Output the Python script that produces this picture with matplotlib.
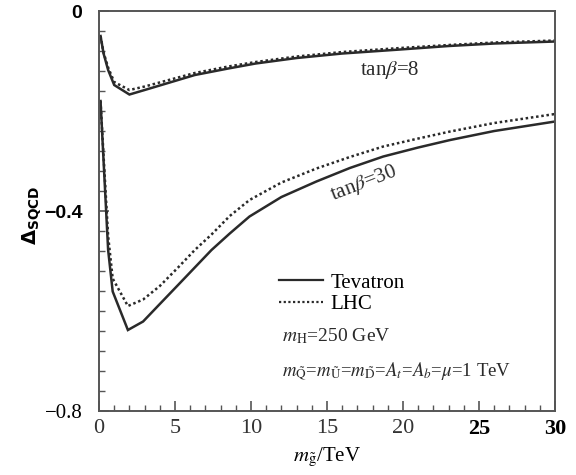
import matplotlib
matplotlib.use("Agg")
import matplotlib.pyplot as plt
from matplotlib.lines import Line2D

plt.rcParams['font.family'] = ['Liberation Serif', 'DejaVu Serif']
plt.rcParams['mathtext.fontset'] = 'stix'

# tan(beta) = 8
x8 = [0.1, 0.3, 0.6, 1.0, 2.0, 3.0, 4.1, 5.2, 6.3, 8.5, 10.3, 13, 16, 19.8, 23, 26, 30]
tev8 = [-0.05, -0.085, -0.118, -0.148, -0.167, -0.158, -0.148, -0.138, -0.128, -0.115,
        -0.105, -0.094, -0.085, -0.077, -0.070, -0.065, -0.061]
lhc8 = [-0.05, -0.083, -0.113, -0.142, -0.158, -0.151, -0.142, -0.133, -0.124, -0.111,
        -0.102, -0.091, -0.082, -0.074, -0.068, -0.063, -0.059]

# tan(beta) = 30
x30 = [0.1, 0.3, 0.6, 0.9, 1.9, 2.9, 4.0, 5.2, 6.3, 7.4, 8.6, 9.9, 12, 14.3, 16.5, 18.7, 21, 23.1, 26, 30]
tev30 = [-0.18, -0.30, -0.478, -0.561, -0.638, -0.621, -0.586, -0.548, -0.513, -0.478,
         -0.445, -0.411, -0.372, -0.341, -0.314, -0.291, -0.273, -0.258, -0.240, -0.221]
lhc30 = [-0.18, -0.29, -0.45, -0.535, -0.590, -0.577, -0.550, -0.513, -0.478, -0.447,
         -0.410, -0.378, -0.343, -0.315, -0.292, -0.271, -0.255, -0.241, -0.224, -0.206]

xticks = [0, 5, 10, 15, 20, 25, 30]
xlabels = ['0', '5', '10', '15', '20', '25', '30']
yticks = [0, -0.4, -0.8]
ylabels = ['0', '\u22120.4', '\u22120.8']

ink = '#2a2a2a'
fig = plt.figure(figsize=(5.76, 4.75), dpi=100)
ax = fig.add_axes([0.1719, 0.1347, 0.7916, 0.8421])

ax.plot(x8, tev8, color=ink, lw=1.8, solid_joinstyle='miter')
ax.plot(x8, lhc8, color=ink, lw=1.8, ls=(0, (1, 1.1)))
ax.plot(x30, tev30, color=ink, lw=1.8, solid_joinstyle='miter')
ax.plot(x30, lhc30, color=ink, lw=1.8, ls=(0, (1, 1.1)))

ax.set_xlim(0, 30)
ax.set_ylim(-0.8, 0)

for s in ax.spines.values():
    s.set_color('#555555')
    s.set_linewidth(1.4)

ax.set_xticks(xticks, xlabels)
ax.set_yticks(yticks, ylabels)
ax.set_xticks(range(0, 31), minor=True)
ax.set_yticks([-0.04 * i for i in range(21)], minor=True)
ax.tick_params(which='both', direction='in', color='#555555', top=False, right=False)
ax.tick_params(which='major', length=7, width=1.2)
ax.tick_params(which='minor', length=4, width=1.0)
ax.tick_params(axis='x', pad=6)
ax.tick_params(axis='y', pad=12)

for i, t in enumerate(ax.xaxis.get_major_ticks()):
    t.label1.set_fontsize(16)
    t.label1.set_fontfamily('Liberation Serif')
    if i >= 5:
        t.label1.set_fontweight('bold')
        t.label1.set_color('black')
    else:
        t.label1.set_color('#333333')
for i, t in enumerate(ax.yaxis.get_major_ticks()):
    if i < 2:
        t.label1.set_fontfamily('Liberation Sans')
        t.label1.set_fontweight('bold')
        t.label1.set_fontsize(14)
    else:
        t.label1.set_fontfamily('Liberation Serif')
        t.label1.set_fontsize(15)
    t.label1.set_color('black')

fig.text(32 / 576, 1 - 215 / 475, r'$\mathbf{\Delta_{SQCD}}$', rotation=90,
         ha='center', va='center', fontsize=14, math_fontfamily='dejavusans')
ax.set_xlabel(r'$m_{\tilde{\mathrm{g}}}$/TeV', fontsize=15, labelpad=5)

ax.text(19.1, -0.118, r'tan$\beta$=8', fontsize=15, ha='center', va='center', color=ink)
ax.text(17.4, -0.344, r'tan$\beta$=30', fontsize=15, ha='center', va='center',
        rotation=21, color=ink)

handles = [Line2D([], [], color=ink, lw=1.6),
           Line2D([], [], color=ink, lw=1.6, ls=(0, (1, 1.1)))]
ax.legend(handles, ['Tevatron', 'LHC'], loc='upper left', bbox_to_anchor=(0.395, 0.345),
          frameon=False, fontsize=15, handlelength=2.1, handletextpad=0.35,
          labelspacing=0.1, borderpad=0, borderaxespad=0)

ax.text(12.04, -0.65, r'$m_{\mathrm{H}}$=250 GeV', fontsize=14, ha='left', va='center', color=ink)
ax.text(12.04, -0.72,
        r'$m_{\tilde{\mathrm{Q}}}$=$m_{\tilde{\mathrm{U}}}$=$m_{\tilde{\mathrm{D}}}$=$A_t$=$A_b$=$\mu$=1 TeV',
        fontsize=13.5, ha='left', va='center', color=ink)

fig.savefig('out.png', dpi=100)
